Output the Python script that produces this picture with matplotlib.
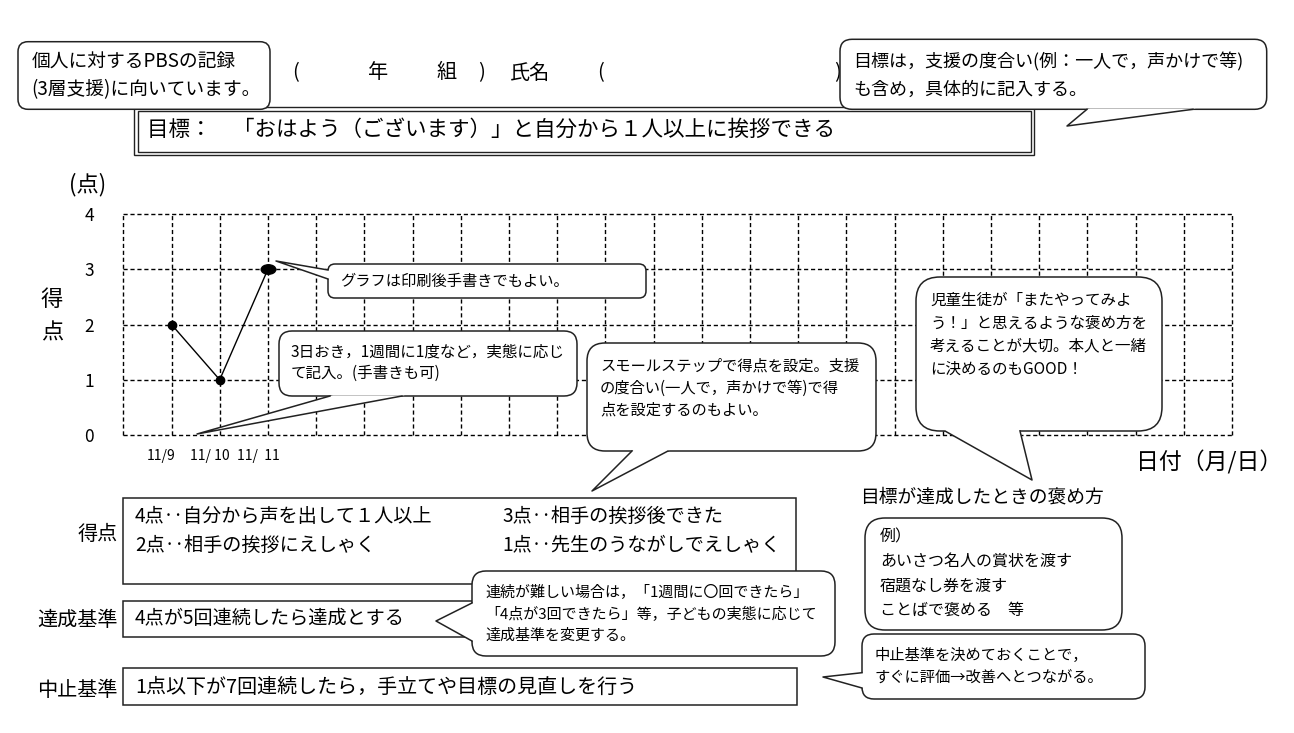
import matplotlib
matplotlib.use('Agg')
import matplotlib.pyplot as plt
import matplotlib.transforms as mtransforms
from matplotlib.patches import FancyBboxPatch, Rectangle, Polygon
from matplotlib.path import Path
import numpy as np

plt.rcParams['font.family'] = ['Noto Sans CJK JP', 'DejaVu Sans']

# chart data
dates = ['11/9', '11/ 10', '11/  11']
scores = [2, 1, 3]
score_ticks = [0, 1, 2, 3, 4]
n_days = 23

# form texts
goal_text = '目標：　「おはよう（ございます）」と自分から１人以上に挨拶できる'
score_rules = ['4点‥自分から声を出して１人以上', '3点‥相手の挨拶後できた',
               '2点‥相手の挨拶にえしゃく', '1点‥先生のうながしでえしゃく']
achieve_rule = '4点が5回連続したら達成とする'
stop_rule = '1点以下が7回連続したら，手立てや目標の見直しを行う'
praise_title = '目標が達成したときの褒め方'
praise_examples = ['例）', 'あいさつ名人の賞状を渡す', '宿題なし券を渡す', 'ことばで褒める　等']

# callout notes
note_pbs = ['個人に対するPBSの記録', '(3層支援)に向いています。']
note_goal = ['目標は，支援の度合い(例：一人で，声かけで等)', 'も含め，具体的に記入する。']
note_graph = ['グラフは印刷後手書きでもよい。']
note_interval = ['3日おき，1週間に1度など，実態に応じ', 'て記入。(手書きも可)']
note_step = ['スモールステップで得点を設定。支援', 'の度合い(一人で，声かけで等)で得', '点を設定するのもよい。']
note_praise = ['児童生徒が「またやってみよ', 'う！」と思えるような褒め方を', '考えることが大切。本人と一緒', 'に決めるのもGOOD！']
note_achieve = ['連続が難しい場合は，「1週間に〇回できたら」', '「4点が3回できたら」等，子どもの実態に応じて', '達成基準を変更する。']
note_stop = ['中止基準を決めておくことで，', 'すぐに評価→改善へとつながる。']

W, H = 1294, 733
fig = plt.figure(figsize=(W / 100, H / 100), dpi=100)

# --- grid chart ---
gx0, gx1, gy0, gy1 = 123.3, 1232, 214, 435
ax = fig.add_axes([gx0 / W, 1 - gy1 / H, (gx1 - gx0) / W, (gy1 - gy0) / H])
ax.set_xlim(0, n_days)
ax.set_ylim(score_ticks[0], score_ticks[-1])
for s in ax.spines.values():
    s.set_visible(False)
dash = (0, (3, 2))
ax.vlines(range(n_days + 1), score_ticks[0], score_ticks[-1], colors='black',
          linestyles=dash, lw=1.0, clip_on=False)
ax.hlines(score_ticks, 0, n_days, colors='black', linestyles=dash, lw=1.0, clip_on=False)

xs = np.arange(1, len(scores) + 1)
ax.plot(xs, scores, color='black', lw=1.0, clip_on=False)
ax.plot(xs[:-1], scores[:-1], 'o', color='black', ms=6, clip_on=False)
oval = Path.unit_circle().transformed(mtransforms.Affine2D().scale(1.0, 0.65))
ax.plot(xs[-1:], scores[-1:], marker=oval, ls='none', color='black', ms=10.5, clip_on=False)

ax.set_yticks(score_ticks)
ax.set_yticklabels([str(v) for v in score_ticks], fontsize=12.5)
ax.tick_params(axis='y', length=0, pad=21)
ax.set_xticks(xs)
ax.set_xticklabels(dates, fontsize=10)
ax.tick_params(axis='x', length=0, pad=10)
shift = mtransforms.ScaledTranslation(-10 / 100, 0, fig.dpi_scale_trans)
for lbl in ax.get_xticklabels():
    lbl.set_transform(lbl.get_transform() + shift)

# --- page overlay in pixel coordinates ---
pg = fig.add_axes([0, 0, 1, 1])
pg.set_xlim(0, W)
pg.set_ylim(H, 0)
pg.axis('off')
pg.patch.set_visible(False)

EC = '#222222'


def lines(x, y0, dy, texts, fs, **kw):
    for i, t in enumerate(texts):
        pg.text(x, y0 + i * dy, t, fontsize=fs, va='center', ha='left', **kw)


def callout(x0, y0, x1, y1, tail=None, r=12, z=5):
    pg.add_patch(FancyBboxPatch((x0, y0), x1 - x0, y1 - y0,
                                boxstyle=f'round,pad=0,rounding_size={r}',
                                fc='white', ec=EC, lw=1.1, zorder=z))
    if tail:
        (ax1, ay1), (ax2, ay2), (tx, ty) = tail
        mx, my = (ax1 + ax2) / 2, (ay1 + ay2) / 2
        d = np.hypot(mx - tx, my - ty)
        ux, uy = (mx - tx) / d * 3, (my - ty) / d * 3
        pg.add_patch(Polygon([(ax1 + ux, ay1 + uy), (ax1, ay1), (tx, ty), (ax2, ay2),
                              (ax2 + ux, ay2 + uy)], closed=True, fc='white', ec='none',
                             zorder=z + 0.1))
        pg.plot([ax1, tx, ax2], [ay1, ty, ay2], color=EC, lw=1.1, zorder=z + 0.2)


# header line
for x, t in [(292, '('), (368, '年'), (437, '組'), (478, ')'), (510, '氏名'), (597, '('), (834, ')')]:
    pg.text(x, 73, t, fontsize=14.5, va='center', ha='left')

# goal double box
pg.add_patch(Rectangle((134, 107), 900, 48, fc='none', ec=EC, lw=1.0, zorder=2))
pg.add_patch(Rectangle((137.5, 110.5), 893, 41, fc='none', ec=EC, lw=1.0, zorder=2))
pg.text(147, 130, goal_text, fontsize=15.5, va='center', ha='left')

# axis captions
pg.text(88, 185, '(点)', fontsize=16, va='center', ha='center')
pg.text(52, 300, '得', fontsize=16, va='center', ha='center')
pg.text(52, 333, '点', fontsize=16, va='center', ha='center')
pg.text(1282, 462, '日付（月/日）', fontsize=16.5, va='center', ha='right')

# score / criteria boxes
pg.add_patch(Rectangle((123, 498), 673, 86, fc='white', ec=EC, lw=1.1, zorder=2))
pg.text(118, 534, '得点', fontsize=14.5, va='center', ha='right')
for i, t in enumerate(score_rules):
    pg.text(135 + (i % 2) * 367, 516 + (i // 2) * 29, t, fontsize=13.8, va='center', ha='left')

pg.add_patch(Rectangle((123, 601), 673, 36, fc='white', ec=EC, lw=1.1, zorder=2))
pg.text(118, 620, '達成基準', fontsize=14.5, va='center', ha='right')
pg.text(135, 619, achieve_rule, fontsize=13.8, va='center', ha='left', zorder=3)

pg.add_patch(Rectangle((123, 668), 674, 37, fc='white', ec=EC, lw=1.1, zorder=2))
pg.text(118, 690, '中止基準', fontsize=14.5, va='center', ha='right')
pg.text(135, 687, stop_rule, fontsize=14.4, va='center', ha='left', zorder=3)

pg.text(860, 497, praise_title, fontsize=13.5, va='center', ha='left')

# callouts
callout(18, 41.7, 270, 109.3, r=10)
lines(31.7, 61.7, 28.3, note_pbs, 13.5, zorder=6)

callout(840, 39.3, 1266.7, 109.3, tail=((1087, 109.3), (1193, 109.3), (1067, 126)), r=12)
lines(853, 61.7, 28.3, note_goal, 13, zorder=6)

callout(328, 264, 646, 298, tail=((328, 270), (328, 279), (276, 261)), r=7)
lines(340, 281, 0, note_graph, 11, zorder=6)

callout(279, 331, 577, 396, tail=((330, 396), (402, 396), (197, 434)), r=13)
lines(291, 352, 21, note_interval, 11.2, zorder=6)

callout(587, 343, 876, 451, tail=((632, 451), (668, 451), (592, 491)), r=18)
lines(600, 366, 22, note_step, 11, zorder=6)

callout(916, 277, 1162, 431, tail=((945, 431), (1020, 431), (1032, 480)), r=24)
lines(930, 300, 23, note_praise, 11.2, zorder=6)

callout(865, 518, 1122, 630, r=20)
lines(880, 537, 24.3, praise_examples, 11.5, zorder=6)

callout(472, 571, 835, 656, tail=((472, 603), (472, 641), (436, 621)), r=14)
lines(485, 592, 22, note_achieve, 10.8, zorder=6)

callout(862, 634, 1145, 699, tail=((862, 672.7), (862, 688), (823, 677)), r=12)
lines(875, 655, 22, note_stop, 11, zorder=6)

fig.savefig('out.png', dpi=100, facecolor='white')
